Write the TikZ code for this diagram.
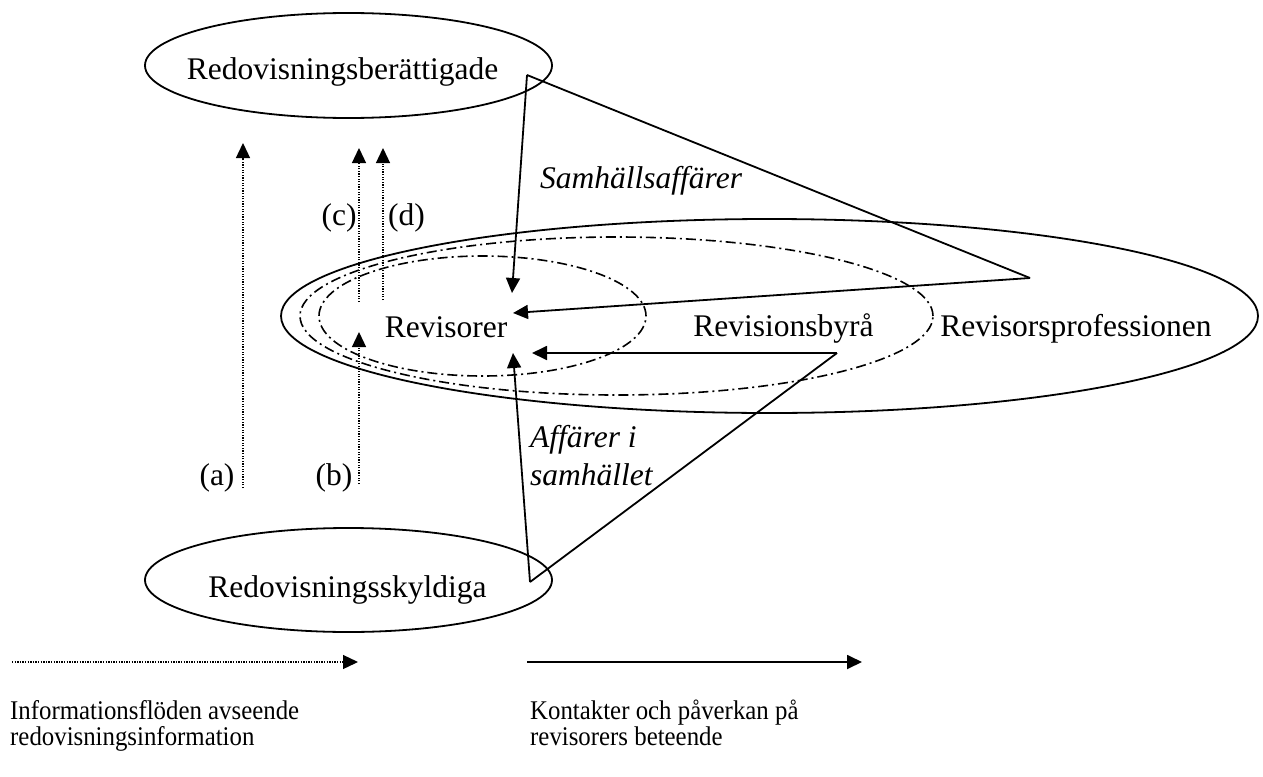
\documentclass[tikz,border=0pt]{standalone}
\usepackage{fontspec}
\setmainfont{Liberation Serif}
\newfontfamily\legendfont[FakeStretch=0.92]{Liberation Serif}
\usetikzlibrary{shapes.geometric,arrows.meta}

\begin{document}
\begin{tikzpicture}[x=1pt,y=-1pt,
  ring/.style={ellipse, draw, line width=1.8pt, inner sep=0pt},
  dashring/.style={ellipse, draw, line width=1.6pt,
    dash pattern=on 10pt off 4pt on 2pt off 4pt, inner sep=0pt},
  txt/.style={font=\fontsize{31.5}{36}\selectfont, anchor=base, inner sep=0pt},
  itxt/.style={font=\fontsize{31.5}{36}\selectfont\itshape, anchor=base west, inner sep=0pt},
  smalltxt/.style={font=\legendfont\fontsize{27}{28}\selectfont, anchor=base west, inner sep=0pt},
  infoflow/.style={line width=1.3pt, dash pattern=on 1.3pt off 1.3pt,
    -{Triangle[length=15pt,width=14pt]}},
  contact/.style={line width=1.8pt, line join=miter},
  contactarrow/.style={contact, -{Triangle[length=15pt,width=14pt]}}
]
\useasboundingbox (0,0) rectangle (1263,776);

% groups around the auditors
\node[ring, minimum width=977pt, minimum height=194pt] (prof) at (769.5,316) {};
\node[dashring, minimum width=633pt, minimum height=158pt] (byra) at (616.5,316) {};
\node[dashring, minimum width=327pt, minimum height=120pt] (rev) at (482.5,316) {};

% the two outer parties
\node[ring, minimum width=407pt, minimum height=105pt] (ber) at (348.5,65.5) {};
\node[ring, minimum width=407pt, minimum height=104pt] (sky) at (348.5,580) {};

% labels
\node[txt] (tber) at (342.5,79) {Redovisningsberättigade};
\node[txt] (tsky) at (347.5,597) {Redovisningsskyldiga};
\node[txt] (trev) at (446,337) {Revisorer};
\node[txt] (tbyra) at (783.5,336) {Revisionsbyrå};
\node[txt] (tprof) at (1076,336) {Revisorsprofessionen};
\node[itxt] (tsam) at (540,188) {Samhällsaffärer};
\node[itxt] (taff1) at (530,447) {Affärer i};
\node[itxt] (taff2) at (530,485) {samhället};

\node[txt] (la) at (217,485) {(a)};
\node[txt] (lb) at (334,485) {(b)};
\node[txt] (lc) at (339,225) {(c)};
\node[txt] (ld) at (406.5,225) {(d)};

% information flows
\coordinate (aS) at (243,488);
\coordinate (aE) at (243,143);
\coordinate (bS) at (359,484);
\coordinate (bE) at (359,332);
\coordinate (cS) at (359,302);
\coordinate (cE) at (359,148);
\coordinate (dS) at (383,300);
\coordinate (dE) at (383,148);
\draw[infoflow] (aS) -- (aE);
\draw[infoflow] (bS) -- (bE);
\draw[infoflow] (cS) -- (cE);
\draw[infoflow] (dS) -- (dE);

% contacts and influence
\coordinate (p1) at (527,75);
\coordinate (apexUp) at (1030,278);
\coordinate (tipTop) at (512,293);
\coordinate (tipMid) at (513,313);
\coordinate (q1) at (530,582);
\coordinate (apexLow) at (837,353);
\coordinate (tipLow) at (532,353);
\coordinate (tipBot) at (513,353);

\draw[contactarrow] (p1) -- (tipTop);
\draw[contact] (p1) -- (apexUp);
\draw[contactarrow] (apexUp) -- (tipMid);
\draw[contactarrow] (q1) -- (tipBot);
\draw[contact] (q1) -- (apexLow);
\draw[contactarrow] (apexLow) -- (tipLow);

% legend
\coordinate (l1S) at (12,662);
\coordinate (l1E) at (358,662);
\coordinate (l2S) at (527,662);
\coordinate (l2E) at (862,662);
\draw[infoflow] (l1S) -- (l1E);
\draw[contactarrow] (l2S) -- (l2E);
\node[smalltxt] (leg1a) at (10,719) {Informationsflöden avseende};
\node[smalltxt] (leg1b) at (10,745) {redovisningsinformation};
\node[smalltxt] (leg2a) at (530,719) {Kontakter och påverkan på};
\node[smalltxt] (leg2b) at (530,745) {revisorers beteende};
\end{tikzpicture}
\end{document}
